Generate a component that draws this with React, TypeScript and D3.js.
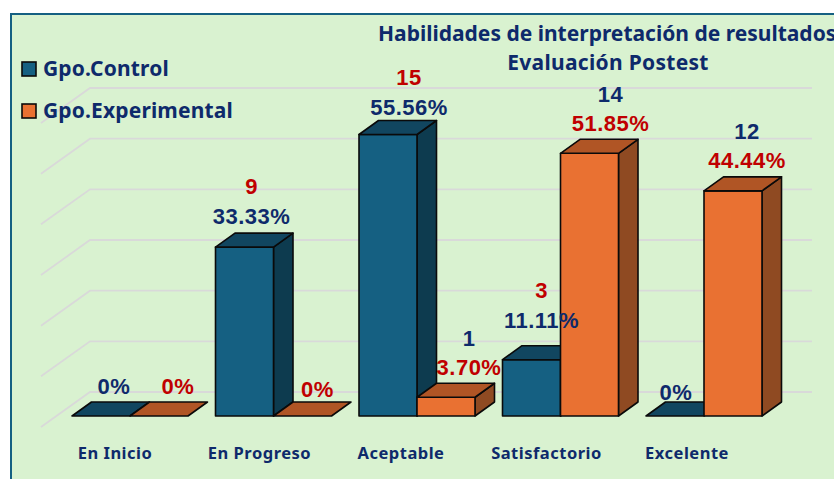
import React from "react";
import * as d3 from "d3";

const categories = ["En Inicio", "En Progreso", "Aceptable", "Satisfactorio", "Excelente"];
const controlCounts = [0, 9, 15, 3, 0];
const controlPct = [0, 33.33, 55.56, 11.11, 0];
const experimentalCounts = [0, 0, 1, 14, 12];
const experimentalPct = [0, 0, 3.7, 51.85, 44.44];
const gridTicks = [0, 10, 20, 30, 40, 50, 60];
const titleLines = ["Habilidades de interpretación de resultados", "Evaluación Postest"];
const seriesNames = ["Gpo.Control", "Gpo.Experimental"];

const NAVY = "#0e2a6b";
const RED = "#c00000";
const FONT = "'Noto Sans', sans-serif";
const NUM_FONT = "'Liberation Sans', Arial, sans-serif";

const W = 834, H = 479;
const FLOOR = 416, DX = 19.5, DY = 14, BAR = 58;
const WALL_DX = 49, WALL_DY = 35, WALL_X = 90, WALL_END = 812;

const xCenter = d3.scalePoint<string>().domain(categories).range([130, 704]);
const height = d3.scaleLinear().domain([0, 60]).range([0, 304]);
const gridY = d3.scaleLinear().domain([0, 60]).range([392, 88]);

// Hand-placed label nudges, measured from the top of each bar
const ctrlNudge = [[13, -30], [7, -31], [21, -27], [10, -39], [1, -24]];
const expNudge = [[19, -30], [15, -27], [23, -30], [21, -30], [14, -30]];
const labelNudgeCat = [-15, -14, -16, -14, -17];

const pctText = (v: number) => (v === 0 ? "0%" : `${v.toFixed(2)}%`);
const line = d3.line();

function Bar({ x, value, front, top, side }: { x: number; value: number; front: string; top: string; side: string }) {
  const h = height(value);
  const y = FLOOR - h;
  const sw = 1.6;
  const st = "#0a0a0a";
  const closed = (p: [number, number][]) => line(p) + "Z";
  return (
    <g stroke={st} strokeWidth={sw} strokeLinejoin="round">
      {h > 0 && <path d={closed([[x + BAR, y], [x + BAR + DX, y - DY], [x + BAR + DX, FLOOR - DY], [x + BAR, FLOOR]])} fill={side} />}
      {h > 0 && <rect x={x} y={y} width={BAR} height={h} fill={front} />}
      <path d={closed([[x, y], [x + DX, y - DY], [x + BAR + DX, y - DY], [x + BAR, y]])} fill={top} />
    </g>
  );
}

function Label({ x, y, fill, children }: { x: number; y: number; fill: string; children: React.ReactNode }) {
  return (
    <text x={x} y={y} fill={fill} fontSize={22} fontWeight={700} letterSpacing={0.5} textAnchor="middle" dominantBaseline="central" fontFamily={NUM_FONT}>
      {children}
    </text>
  );
}

export default function App() {
  return (
    <svg width={W} height={H} viewBox={`0 0 ${W} ${H}`} style={{ position: "absolute", left: 0, top: 0, display: "block" }}>
      <rect width={W} height={H} fill="#ffffff" />
      <rect x={11} y={14} width={W + 20} height={H + 20} fill="#d9f2d0" stroke="#156082" strokeWidth={2} />

      {gridTicks.map((t) => (
        <path
          key={t}
          d={line([[WALL_X - WALL_DX, gridY(t) + WALL_DY], [WALL_X, gridY(t)], [WALL_END, gridY(t)]]) as string}
          fill="none"
          stroke="#d9d9d9"
          strokeWidth={1.8}
        />
      ))}

      {categories.map((c, i) => {
        const cx = xCenter(c) as number;
        return (
          <g key={c}>
            <Bar x={cx - BAR} value={controlPct[i]} front="#156082" top="#114660" side="#0d3b4f" />
            <Bar x={cx} value={experimentalPct[i]} front="#e97132" top="#b05525" side="#8f4a22" />
          </g>
        );
      })}

      {categories.map((c, i) => {
        const cx = xCenter(c) as number;
        const cTop = FLOOR - height(controlPct[i]);
        const eTop = FLOOR - height(experimentalPct[i]);
        const cX = cx - BAR / 2 + ctrlNudge[i][0];
        const eX = cx + BAR / 2 + expNudge[i][0];
        return (
          <g key={c}>
            <Label x={cX} y={cTop + ctrlNudge[i][1]} fill={NAVY}>{pctText(controlPct[i])}</Label>
            {controlCounts[i] > 0 && (
              <Label x={cX} y={cTop + ctrlNudge[i][1] - 30} fill={RED}>{controlCounts[i]}</Label>
            )}
            <Label x={eX} y={eTop + expNudge[i][1]} fill={RED}>{pctText(experimentalPct[i])}</Label>
            {experimentalCounts[i] > 0 && (
              <Label x={eX} y={eTop + expNudge[i][1] - 29} fill={NAVY}>{experimentalCounts[i]}</Label>
            )}
            <text x={cx + labelNudgeCat[i]} y={452} fill={NAVY} fontSize={16.5} fontWeight={700} letterSpacing={0.5} textAnchor="middle" dominantBaseline="central" fontFamily={FONT}>{c}</text>
          </g>
        );
      })}

      <text x={378} y={33} fill={NAVY} fontSize={21} fontWeight={700} dominantBaseline="central" fontFamily={FONT}>{titleLines[0]}</text>
      <text x={608} y={62} fill={NAVY} fontSize={21} fontWeight={700} letterSpacing={0.3} textAnchor="middle" dominantBaseline="central" fontFamily={FONT}>{titleLines[1]}</text>

      {seriesNames.map((s, i) => {
        const y = 69 + i * 42;
        return (
          <g key={s}>
            <rect x={22} y={y - 7} width={14} height={14} fill={i === 0 ? "#156082" : "#e97132"} stroke="#0a0a0a" strokeWidth={1.6} />
            <text x={43} y={y - 1} fill={NAVY} fontSize={21} fontWeight={700} letterSpacing={0.15} dominantBaseline="central" fontFamily={FONT}>{s}</text>
          </g>
        );
      })}
    </svg>
  );
}
